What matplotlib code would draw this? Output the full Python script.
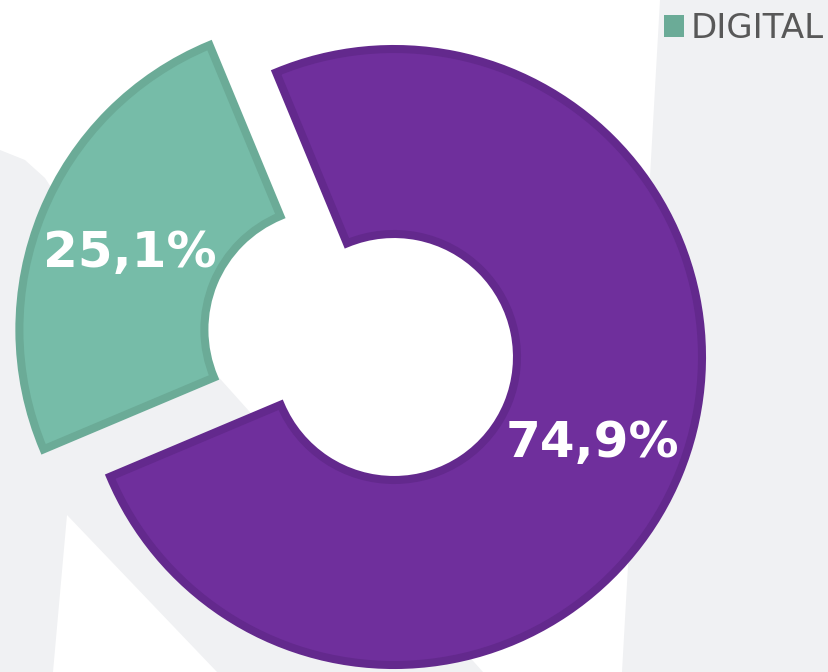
import matplotlib
matplotlib.use("Agg")
import matplotlib.pyplot as plt
import matplotlib.patches as mpatches

# data
labels = ["DIGITAL", "OUTROS"]
shares = [25.1, 74.9]
fills = ["#76bca8", "#6f2f9c"]
edges = ["#6bab97", "#63298d"]
legend_labels = ["DIGITAL"]

W, H = 829, 672
fig = plt.figure(figsize=(W / 100, H / 100), dpi=100)
ax = fig.add_axes([0, 0, 1, 1])

# light watermark shapes in the background (pixel coords, y from top)
bg = "#f0f1f3"
left_shape = [(0, 672), (53, 672), (67, 515), (217, 672), (483, 672),
              (58, 198), (45, 178), (25, 160), (0, 150)]
right_shape = [(660, 0), (829, 0), (829, 672), (622, 672)]
for shape in (left_shape, right_shape):
    pts = [(x, H - y) for x, y in shape]
    ax.add_patch(mpatches.Polygon(pts, closed=True, facecolor=bg,
                                  edgecolor="none", zorder=0))

# donut (units = pixels)
cx, cy = 394, H - 357
radius = 308
wedges, texts, autotexts = ax.pie(
    shares, center=(cx, cy), radius=radius, startangle=112.5,
    explode=[72, 0], colors=fills, pctdistance=0.695,
    autopct=lambda p: f"{p:.1f}%".replace(".", ","),
    wedgeprops=dict(width=185, linewidth=5.8),
    textprops=dict(color="white", fontsize=36, fontweight="bold"),
)
for w, ec in zip(wedges, edges):
    w.set_edgecolor(ec)
    w.set_zorder(2)
for t in autotexts:
    t.set_zorder(3)
    t.set_va("center_baseline")

handles = [mpatches.Patch(facecolor=edges[0], edgecolor="none")]
leg = ax.legend(handles, legend_labels, loc="upper right",
                bbox_to_anchor=(824 / W, 1 - 12 / H), frameon=False,
                fontsize=24.5, handlelength=0.6, handleheight=0.6,
                handletextpad=0.2, borderpad=0, borderaxespad=0)
for t in leg.get_texts():
    t.set_color("#585858")

ax.set_xlim(0, W)
ax.set_ylim(0, H)
ax.set_aspect("auto")
ax.axis("off")

fig.savefig("out.png", dpi=100, facecolor="white")
